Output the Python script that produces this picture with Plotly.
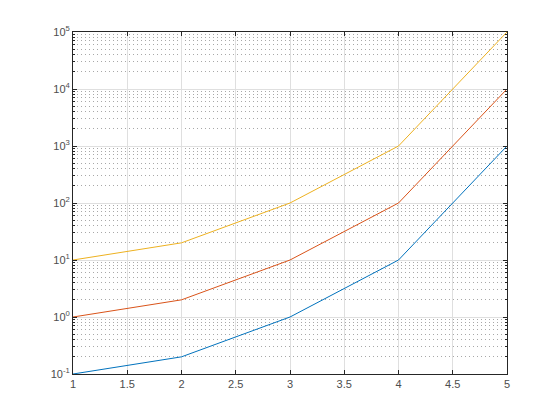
import plotly.graph_objects as go

x = [1, 2, 3, 4, 5]
y_blue = [0.1, 0.2, 1, 10, 1000]
y_red = [1, 2, 10, 100, 10000]
y_yellow = [10, 20, 100, 1000, 100000]

exps = [-1, 0, 1, 2, 3, 4, 5]
ytickvals = [10 ** e for e in exps]
yticktext = ["10<sup>%d</sup>" % e for e in exps]
yminor = [k * 10 ** e for e in exps[:-1] for k in range(2, 10)]

colors = ["#0072BD", "#D95319", "#EDB120"]

fig = go.Figure()
for ys, c in zip([y_blue, y_red, y_yellow], colors):
    fig.add_trace(go.Scatter(x=x, y=ys, mode="lines", line=dict(color=c, width=1), showlegend=False))

axcol = "#262626"
fig.update_layout(
    width=560, height=420,
    margin=dict(l=65, r=61, t=24, b=54),
    paper_bgcolor="white", plot_bgcolor="white",
    font=dict(family="Liberation Sans, Arial, sans-serif", size=11, color="#4d4d4d"),
    xaxis=dict(range=[1, 5], tickvals=[1, 1.5, 2, 2.5, 3, 3.5, 4, 4.5, 5],
               ticktext=["1", "1.5", "2", "2.5", "3", "3.5", "4", "4.5", "5"],
               ticks="inside", ticklen=4, tickcolor=axcol, mirror="allticks",
               showline=True, linecolor=axcol, linewidth=1,
               showgrid=True, gridcolor="#dfdfdf", gridwidth=1, zeroline=False),
    yaxis=dict(type="log", range=[-1, 5], tickvals=ytickvals, ticktext=yticktext,
               ticks="inside", ticklen=4, tickcolor=axcol, mirror="allticks",
               showline=True, linecolor=axcol, linewidth=1,
               showgrid=True, gridcolor="#dfdfdf", gridwidth=1, zeroline=False,
               minor=dict(tickvals=yminor, ticks="inside", ticklen=2, tickcolor=axcol,
                          showgrid=True, gridcolor="#a8a8a8", griddash="1px,3px", gridwidth=1)),
)

fig.write_html("out.html")
